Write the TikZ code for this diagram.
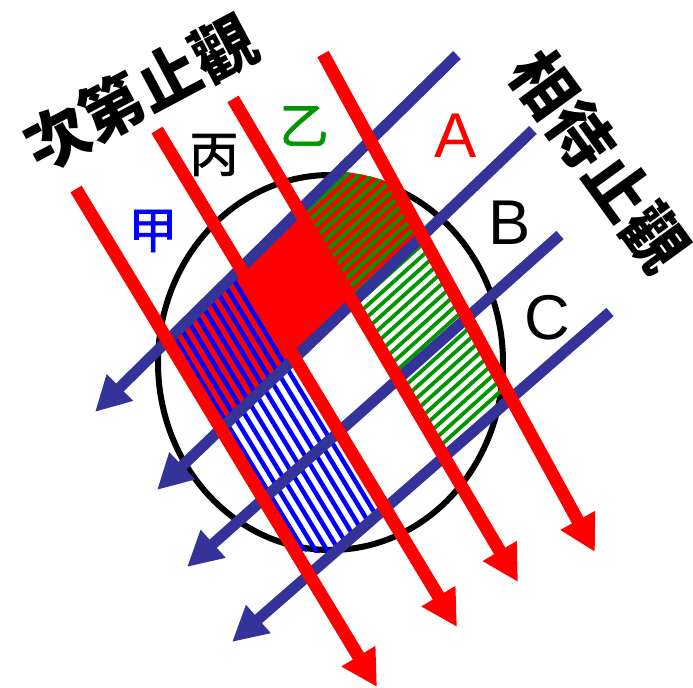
\documentclass[tikz,border=0pt]{standalone}
\usepackage{fontspec}
\setmainfont{Liberation Sans}
\newfontfamily\cjk{Noto Sans CJK TC}
\newfontfamily\cjkmid{Noto Sans CJK TC}[FakeBold=1.5]
\usepackage{xcolor}
\usepackage{tikz}
\definecolor{beamred}{RGB}{255, 0, 0}
\definecolor{rayblue}{RGB}{51, 51, 153}
\definecolor{stripeblue}{RGB}{0, 0, 255}
\definecolor{labelgreen}{RGB}{0, 150, 0}
\usetikzlibrary{arrows.meta}

\begin{document}
\begin{tikzpicture}[
    x=0.01cm, y=-0.01cm,
    redray/.style={draw=beamred, line width=0.13cm, -{Triangle[length=0.36cm, width=0.37cm]}},
    blueray/.style={draw=rayblue, line width=0.11cm, -{Triangle[length=0.35cm, width=0.35cm]}},
    cjklabel/.style={inner sep=0, font=\cjkmid\fontsize{14pt}{14pt}\selectfont},
    latinlabel/.style={inner sep=0, font=\fontsize{18pt}{18pt}\selectfont},
    heading/.style={inner sep=0, font=\cjk\bfseries\fontsize{18pt}{18pt}\selectfont}
]
    \useasboundingbox (0,0) rectangle (693,688);

    \foreach \i/\sx/\sy/\ex/\ey in {1/76/189/377/687, 2/157/130/457/627, 3/233/99/518/582, 4/323/54/595/552}
        {\coordinate (r\i) at (\sx,\sy); \coordinate (r\i tip) at (\ex,\ey);}
    \foreach \i/\sx/\sy/\ex/\ey in {1/457/55/95/412, 2/533/130/157/490, 3/560/235/187/567, 4/610/312/232/642}
        {\coordinate (b\i) at (\sx,\sy); \coordinate (b\i tip) at (\ex,\ey);}
    \foreach \i in {1,...,4}
        \foreach \j in {1,...,4}
            \coordinate (p\i\j) at (intersection of r\i--r\i tip and b\j--b\j tip);

    \draw[line width=0.06cm] (330.5,362.5) ellipse [x radius=172.5, y radius=187.5];

    \begin{scope}
        \clip (330.5,362.5) ellipse [x radius=175, y radius=191];
        \fill[beamred] (p11) -- (p41) -- (p42) -- (p12) -- cycle;
        \begin{scope}
            \clip (p11) -- (p21) -- (p24) -- (p14) -- cycle;
            \foreach \k in {-30,...,30}
                \draw[stripeblue, line width=0.045cm] (330,362) ++(\k*8.56,-\k*5.17) ++(-207,-342) -- ++(414,684);
        \end{scope}
        \begin{scope}
            \clip (p31) -- (p41) -- (p44) -- (p34) -- cycle;
            \foreach \k in {-30,...,30}
                \draw[labelgreen, line width=0.038cm] (330,362) ++(\k*5.69,\k*6.32) ++(-297,268) -- ++(594,-536);
        \end{scope}
    \end{scope}

    \foreach \i in {1,...,4}
        \draw[blueray] (b\i) -- (b\i tip);
    \foreach \i in {1,...,4}
        \draw[redray] (r\i) -- (r\i tip);

    \node[cjklabel, text=stripeblue] (jia) at (153,231) {甲};
    \node[cjklabel] (bing) at (214,155) {丙};
    \node[cjklabel, text=labelgreen] (yi) at (304,126) {乙};
    \node[latinlabel, text=beamred] (rowA) at (456,136) {A};
    \node[latinlabel] (rowB) at (510,223) {B};
    \node[latinlabel] (rowC) at (547,318) {C};
    \node[heading, rotate=28] (gradual) at (140.5,92.5) {次第止觀};
    \node[heading, rotate=-54] (relative) at (600,161) {相待止觀};
\end{tikzpicture}
\end{document}
